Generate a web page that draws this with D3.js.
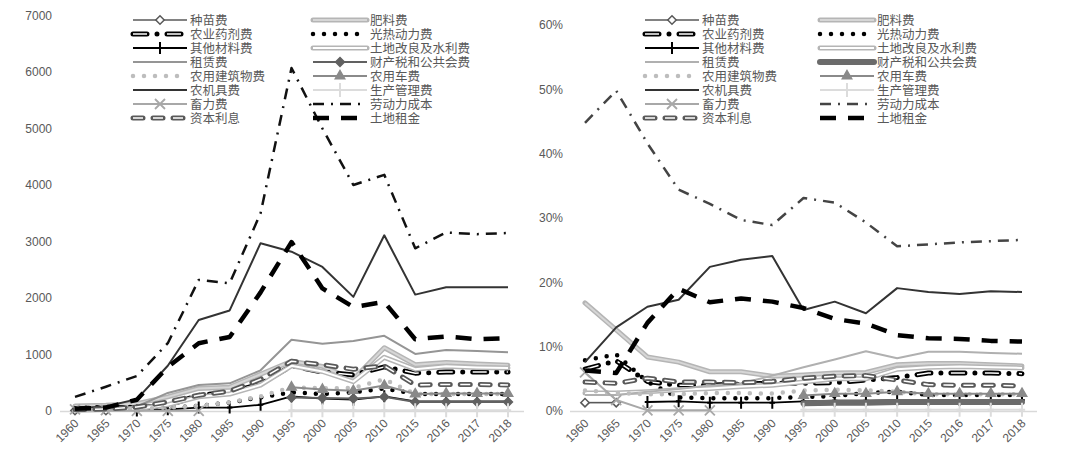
<!DOCTYPE html>
<html><head><meta charset="utf-8">
<script src="https://cdn.jsdelivr.net/npm/d3@7"></script>
<style>html,body{margin:0;padding:0;background:#fff;}svg{display:block;}</style>
</head><body>
<svg id="chart" width="1080" height="463"></svg>
<script>
// ---------- data ----------
const years = ["1960","1965","1970","1975","1980","1985","1990","1995","2000","2005","2010","2015","2016","2017","2018"];
const seriesNames = ["种苗费","肥料费","农业药剂费","光热动力费","其他材料费","土地改良及水利费","租赁费","财产税和公共会费","农用建筑物费","农用车费","农机具费","生产管理费","畜力费","劳动力成本","资本利息","土地租金"];
const leftTicks = [0,1000,2000,3000,4000,5000,6000,7000];
const rightTicks = [0,10,20,30,40,50,60];
const N = null;

// left panel: amounts
const seedL     = [8, 8, N, N, N, N, N, N, N, N, N, N, N, N, N];
const fertL     = [90, 100, 130, 250, 400, 420, 650, 880, 790, 560, 1120, 820, 860, 830, 810];
const pestL     = [36, 60, 60, 100, 280, 330, 480, 800, 690, 640, 780, 670, 690, 690, 690];
const energyL   = [45, 75, 70, 60, 90, 150, 240, 330, 300, 330, 400, 300, 300, 300, 300];
const otherMatL = [N, N, 10, 30, 60, 60, 110, 260, 220, 200, 260, 170, 170, 170, 170];
const landImpL  = [15, 25, 40, 110, 250, 300, 460, 800, 700, 520, 950, 740, 790, 770, 760];
const rentL     = [15, 25, 80, 320, 460, 490, 720, 1260, 1190, 1240, 1330, 1010, 1080, 1060, 1040];
const propTaxL  = [N, N, N, N, N, N, N, 240, 230, 220, 250, 160, 160, 160, 160];
const farmBldL  = [20, 25, 40, 60, 90, 150, 260, 420, 400, 410, 560, 300, 300, 300, 300];
const vehicleL  = [N, N, N, N, N, N, N, 420, 380, 360, 450, 300, 310, 310, 310];
const machL     = [50, 80, 210, 800, 1610, 1780, 2970, 2820, 2550, 2020, 3110, 2060, 2190, 2190, 2190];
const mgmtL     = [N, N, N, N, N, N, N, 15, 15, 15, 15, 15, 15, 15, 15];
const animalL   = [30, 15, 3, 3, 3, N, N, N, N, N, N, N, N, N, N];
const laborL    = [250, 430, 620, 1200, 2320, 2260, 3500, 6070, 5000, 4000, 4180, 2880, 3160, 3130, 3150];
const capIntL   = [25, 35, 70, 160, 280, 350, 560, 880, 820, 740, 800, 460, 470, 470, 460];
const landRentL = [40, 60, 200, 780, 1200, 1310, 2100, 2990, 2170, 1840, 1930, 1270, 1320, 1270, 1290];

// right panel: shares (%)
const seedR     = [1.3, 1.3, N, N, N, N, N, N, N, N, N, N, N, N, N];
const fertR     = [16.8, 12.6, 8.4, 7.6, 6.1, 6.1, 5.4, 5.6, 5.9, 6.0, 7.2, 7.4, 7.4, 7.2, 7.0];
const pestR     = [6.5, 7.8, 4.6, 4.0, 4.0, 4.2, 4.3, 4.3, 4.4, 4.8, 5.2, 5.9, 5.9, 5.9, 5.8];
const energyR   = [7.9, 8.8, 4.5, 2.1, 2.0, 2.0, 2.0, 2.2, 2.3, 2.8, 3.0, 2.5, 2.5, 2.5, 2.5];
const otherMatR = [N, N, 1.4, 1.5, 1.3, 1.3, 1.3, 1.5, 1.6, 1.6, 1.7, 1.7, 1.7, 1.7, 1.7];
const landImpR  = [2.8, 2.8, 3.0, 3.3, 3.5, 3.8, 4.0, 4.5, 5.0, 5.0, 6.5, 6.8, 6.9, 6.8, 6.7];
const rentR     = [2.5, 2.5, 3.0, 3.4, 4.0, 4.3, 5.5, 6.8, 8.0, 9.3, 8.2, 9.2, 9.2, 9.0, 8.9];
const propTaxR  = [N, N, N, N, N, N, N, 1.2, 1.3, 1.3, 1.4, 1.4, 1.4, 1.4, 1.4];
const farmBldR  = [3.2, 2.8, 2.6, 2.6, 2.8, 2.8, 2.7, 3.2, 3.3, 3.2, 3.0, 2.6, 2.6, 2.6, 2.6];
const vehicleR  = [N, N, N, N, N, N, N, 2.4, 2.7, 2.7, 3.0, 2.7, 2.7, 2.7, 2.7];
const machR     = [7.6, 13.0, 16.2, 17.3, 22.4, 23.5, 24.1, 15.7, 17.0, 15.2, 19.1, 18.5, 18.2, 18.6, 18.5];
const mgmtR     = [N, N, N, N, N, N, N, 0.2, 0.2, 0.2, 0.2, 0.2, 0.2, 0.2, 0.2];
const animalR   = [6.0, 1.7, 0.1, 0.1, 0.1, N, N, N, N, N, N, N, N, N, N];
const laborR    = [44.8, 49.8, 41.6, 34.4, 32.2, 29.7, 28.9, 33.1, 32.4, 29.3, 25.6, 25.9, 26.2, 26.4, 26.6];
const capIntR   = [4.5, 4.3, 5.1, 4.5, 4.5, 4.4, 4.6, 5.1, 5.4, 5.5, 4.8, 4.1, 4.0, 4.0, 3.9];
const landRentR = [6.3, 5.9, 13.7, 19.0, 16.9, 17.5, 17.0, 16.0, 14.3, 13.6, 11.8, 11.3, 11.2, 10.9, 10.8];

const leftValues  = [seedL, fertL, pestL, energyL, otherMatL, landImpL, rentL, propTaxL, farmBldL, vehicleL, machL, mgmtL, animalL, laborL, capIntL, landRentL];
const rightValues = [seedR, fertR, pestR, energyR, otherMatR, landImpR, rentR, propTaxR, farmBldR, vehicleR, machR, mgmtR, animalR, laborR, capIntR, landRentR];

// ---------- styles ----------
function styleFor(name, panel) {
  switch (name) {
    case "种苗费": return {layers:[{c:"#595959", w:1.6}], marker:{t:"diamond", fill:"#fff", stroke:"#595959", s:45}};
    case "肥料费": return {layers:[{c:"#b5b5b5", w:5, cap:"round"},{c:"#d6d6d6", w:2}]};
    case "农业药剂费": return {layers:[{c:"#000", w:5, dash:"14,10,0,10", cap:"round"},{c:"#fff", w:1.5, dash:"14,10,0,10", cap:"butt"}]};
    case "光热动力费": return {layers:[{c:"#000", w:4.5, dash:"0,11", cap:"round"}]};
    case "其他材料费": return {layers:[{c:"#000", w:1.8}], marker:{t:"plus", stroke:"#000", s:12}};
    case "土地改良及水利费": return {layers:[{c:"#b5b5b5", w:5, cap:"round"},{c:"#fff", w:2}]};
    case "租赁费": return {layers:[{c: panel==="L" ? "#959595" : "#b0b0b0", w:2}]};
    case "财产税和公共会费": return panel==="L"
      ? {layers:[{c:"#616161", w:2}], marker:{t:"diamond", fill:"#616161", stroke:"#616161", s:50}}
      : {layers:[{c:"#6b6b6b", w:6, cap:"round"}]};
    case "农用建筑物费": return {layers:[{c:"#bdbdbd", w:4.5, dash:"0,11", cap:"round"}]};
    case "农用车费": return {layers:[{c:"#8a8a8a", w:2}], marker:{t:"triangle", fill:"#8a8a8a", stroke:"#8a8a8a", s:38}};
    case "农机具费": return {layers:[{c:"#333", w:2}]};
    case "生产管理费": return {layers:[{c:"#dcdcdc", w:2}], marker:{t:"plus", stroke:"#dcdcdc", s:14}};
    case "畜力费": return {layers:[{c:"#a8a8a8", w:2}], marker:{t:"cross", stroke:"#a8a8a8", s:10}};
    case "劳动力成本": return {layers:[{c: panel==="L" ? "#111" : "#444", w:2.5, dash:"11,7,2,7"}]};
    case "资本利息": return {layers:[{c:"#595959", w:5, dash:"10,10", cap:"round"},{c:"#fff", w:1.6, dash:"10,10", cap:"butt"}]};
    case "土地租金": return {layers:[{c:"#000", w:4.5, dash:"16,12"}]};
  }
}

const svg = d3.select("#chart");
const tickColor = "#595959";
const numFont = "'Liberation Sans', Arial, sans-serif";
const cjkFont = "'Noto Sans CJK SC', sans-serif";

function drawMarker(g, m, x, y) {
  if (!m) return;
  if (m.t === "plus") {
    const h = m.s / 2;
    g.append("path").attr("d", `M${x},${y-h}V${y+h}M${x-h*0.45},${y}H${x+h*0.45}`)
      .attr("stroke", m.stroke).attr("stroke-width", 2).attr("fill", "none");
  } else if (m.t === "cross") {
    const h = m.s / 2;
    g.append("path").attr("d", `M${x-h},${y-h}L${x+h},${y+h}M${x-h},${y+h}L${x+h},${y-h}`)
      .attr("stroke", m.stroke).attr("stroke-width", 1.8).attr("fill", "none");
  } else {
    const type = m.t === "diamond" ? d3.symbolDiamond2 : d3.symbolTriangle;
    g.append("path").attr("d", d3.symbol().type(type).size(m.s)())
      .attr("transform", `translate(${x},${y})`)
      .attr("fill", m.fill).attr("stroke", m.stroke).attr("stroke-width", 1.5);
  }
}
function styleLayer(sel, L) {
  sel.attr("fill", "none").attr("stroke", L.c).attr("stroke-width", L.w)
     .attr("stroke-linecap", L.cap || "butt").attr("stroke-linejoin", "round");
  if (L.dash) sel.attr("stroke-dasharray", L.dash);
}

function panel(cfg) {
  const g = svg.append("g");
  const x = d3.scalePoint().domain(years).range([cfg.x0, cfg.x1]);
  const y = d3.scaleLinear().domain([0, cfg.max]).range([411, cfg.yTop]);

  // y axis labels
  const ya = d3.axisLeft(y).tickValues(cfg.ticks).tickSize(0).tickPadding(0).tickFormat(cfg.fmt);
  const yg = g.append("g").attr("transform", `translate(${cfg.yLabelX},0)`).call(ya);
  yg.select(".domain").remove();
  yg.selectAll("text").attr("fill", tickColor).style("font-family", numFont).style("font-size", "12px");

  // x axis
  g.append("line").attr("x1", cfg.ax0).attr("x2", cfg.ax1).attr("y1", 411.5).attr("y2", 411.5)
    .attr("stroke", "#d9d9d9").attr("stroke-width", 1.5);
  const xa = d3.axisBottom(x).tickSize(0).tickPadding(0);
  const xg = g.append("g").attr("transform", "translate(0,411)").call(xa);
  xg.select(".domain").remove();
  xg.selectAll("text").attr("fill", tickColor).style("font-family", numFont).style("font-size", "12px")
    .attr("text-anchor", "end").attr("dy", null).attr("y", 0)
    .attr("transform", "translate(4,13) rotate(-45)");

  // series
  const line = d3.line().defined(d => d.v != null).x(d => x(d.yr)).y(d => y(d.v));
  cfg.values.forEach((arr, i) => {
    const st = styleFor(seriesNames[i], cfg.id);
    const pts = years.map((yr, j) => ({yr, v: arr[j]}));
    const sg = g.append("g");
    st.layers.forEach(L => styleLayer(sg.append("path").attr("d", line(pts)), L));
    pts.filter(d => d.v != null).forEach(d => drawMarker(sg, st.marker, x(d.yr), y(d.v)));
  });

  // legend
  const lg = g.append("g");
  seriesNames.forEach((name, i) => {
    const col = i % 2, row = Math.floor(i / 2);
    const ly = 20 + row * 14;
    const sx0 = cfg.leg[col], sx1 = sx0 + 54;
    const st = styleFor(name, cfg.id);
    st.layers.forEach(L => styleLayer(lg.append("path").attr("d", `M${sx0},${ly}H${sx1}`), L));
    drawMarker(lg, st.marker, (sx0 + sx1) / 2, ly);
    lg.append("text").attr("x", sx1 + 3).attr("y", ly + 4.5).text(name)
      .attr("fill", tickColor).style("font-family", cjkFont).style("font-size", "12.5px");
  });
}

panel({id:"L", values:leftValues, x0:75, x1:508, ax0:60, ax1:524, max:7000, yTop:15.5,
  ticks:leftTicks, fmt:d3.format("d"), yLabelX:52, leg:[133, 313]});
panel({id:"R", values:rightValues, x0:585, x1:1022, ax0:570, ax1:1037, max:60, yTop:25,
  ticks:rightTicks, fmt:d => d + "%", yLabelX:563, leg:[645, 820]});
</script>
</body></html>
